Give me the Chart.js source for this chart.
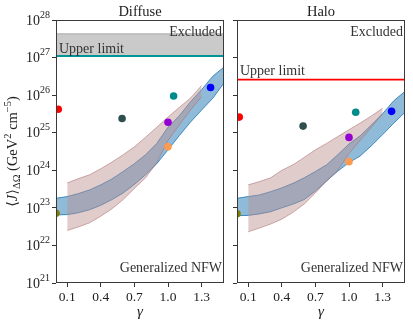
<!DOCTYPE html>
<html>
<head>
<meta charset="utf-8">
<script src="https://cdn.jsdelivr.net/npm/chart.js@4.4.0/dist/chart.umd.min.js"></script>
<style>
  body { margin: 0; background: #fff; }
  #wrap { position: relative; width: 413px; height: 326px; }
  canvas { position: absolute; top: 0; }
</style>
</head>
<body>
<div id="wrap">
  <canvas id="diffuse" width="231" height="326" style="left:0;width:231px;height:326px"></canvas>
  <canvas id="halo" width="182" height="326" style="left:231px;width:182px;height:326px"></canvas>
</div>
<script>
// axes
const decades = [21, 22, 23, 24, 25, 26, 27, 28];
const gammaTicks = [0.1, 0.4, 0.7, 1.0, 1.3];

// generalized NFW bands (gamma grid)
const gammaBand = [0, 0.1, 0.2, 0.3, 0.4, 0.5, 0.6, 0.7, 0.8, 0.9, 1.0, 1.1, 1.2, 1.3, 1.4, 1.5];
const gammaPink = [0.1, 0.2, 0.3, 0.4, 0.5, 0.6, 0.7, 0.8, 0.9, 1.0, 1.1, 1.2, 1.3];

const diffuseBlueLow = [6.5e22, 6.6e22, 7.4e22, 8.9e22, 1.17e23, 1.66e23, 2.5e23, 4.2e23, 7.6e23, 1.5e24, 3.5e24, 8.3e24, 1.9e25, 4.0e25, 8.3e25, 2.1e26];
const diffuseBlueHigh = [1.8e23, 2.0e23, 2.4e23, 3.0e23, 4.1e23, 5.9e23, 9.3e23, 1.5e24, 2.6e24, 5.2e24, 1.4e25, 2.8e25, 6.6e25, 1.4e26, 3.2e26, 5.6e26];
const diffusePinkLow = [2.5e22, 3.1e22, 4.0e22, 6.0e22, 9.5e22, 1.66e23, 3.3e23, 6.3e23, 1.6e24, 6.3e24, 1.6e25, 4.0e25, 9.1e25];
const diffusePinkHigh = [4.6e23, 6.0e23, 7.6e23, 1.1e24, 1.66e24, 2.6e24, 4.2e24, 7.6e24, 1.4e25, 2.6e25, 4.7e25, 8.3e25, 1.8e26];

const haloBlueLow = [6.2e22, 6.3e22, 6.9e22, 7.9e22, 1.0e23, 1.26e23, 1.66e23, 2.8e23, 5.2e23, 9.5e23, 1.6e24, 2.4e24, 4.5e24, 8.9e24, 1.8e25, 3.5e25];
const haloBlueHigh = [1.8e23, 2.0e23, 2.2e23, 2.7e23, 3.4e23, 4.5e23, 6.3e23, 9.3e23, 1.4e24, 2.6e24, 5.0e24, 8.3e24, 1.6e25, 3.2e25, 7.1e25, 1.26e26];
const haloPinkLow = [2.3e22, 2.9e22, 3.7e22, 5.0e22, 7.6e22, 1.26e23, 2.5e23, 5.2e23, 1.0e24, 2.8e24, 6.3e24, 1.4e25, 3.2e25];
const haloPinkHigh = [4.1e23, 5.0e23, 6.3e23, 1.0e24, 1.4e24, 2.2e24, 3.5e24, 5.2e24, 7.9e24, 1.2e25, 1.8e25, 2.8e25, 4.5e25];

// individual J-factor estimates
const sourceColors = ['#ff0000', '#2f4f4f', '#008b8b', '#9400d3', '#ff9a4f', '#0000ff', '#808000'];
const diffuseGamma = [0.02, 0.59, 1.05, 1.0, 1.0, 1.38, 0.0];
const diffuseJ = [4.2e25, 2.4e25, 9.5e25, 1.9e25, 4.2e24, 1.6e26, 7.2e22];
const haloGamma = [0.02, 0.59, 1.06, 1.0, 1.0, 1.38, 0.0];
const haloJ = [2.6e25, 1.5e25, 3.5e25, 7.5e24, 1.7e24, 3.7e25, 7.0e22];

// upper limits
const diffuseLimit = 1.1e27;
const diffuseExcludedTop = 4.3e27;
const haloLimit = 2.6e26;

const SERIF = "'Liberation Serif', 'DejaVu Serif', serif";
const TEXT = '#333';

function xy(xs, ys) {
    return xs.map((g, i) => ({ x: g, y: ys[i] }));
}

// draws frame, y tick labels with exponents, y title, panel title and notes
const panelDecor = {
    id: 'panelDecor',
    afterDraw(chart, args, o) {
        const ctx = chart.ctx;
        const a = chart.chartArea;
        const ys = chart.scales.y;
        ctx.save();
        ctx.strokeStyle = '#3a3a3a';
        ctx.lineWidth = 1;
        ctx.strokeRect(a.left + 0.5, a.top + 0.5, a.right - a.left - 1, a.bottom - a.top - 1);

        ctx.fillStyle = '#222';
        if (o.yLabels) {
            decades.forEach(e => {
                const y = ys.getPixelForValue(Math.pow(10, e));
                ctx.font = '14px ' + SERIF;
                ctx.textBaseline = 'middle';
                ctx.textAlign = 'left';
                const sup = String(e);
                const w1 = ctx.measureText('10').width;
                ctx.font = '10px ' + SERIF;
                const w2 = ctx.measureText(sup).width;
                const xr = a.left - 6;
                ctx.fillText(sup, xr - w2, y - 5);
                ctx.font = '14px ' + SERIF;
                ctx.fillText('10', xr - w2 - w1, y + 1);
            });

            // y title with sub/superscripts
            const parts = [
                ['\u27E8', 14.5, 0, ''], ['J', 14.5, 0, 'italic '], ['\u27E9', 14.5, 0, ''],
                ['\u0394\u03A9', 10.5, 4, ''], [' (GeV', 14.5, 0, ''], ['2', 10.5, -5, ''],
                [' cm', 14.5, 0, ''], ['\u22125', 10.5, -5, ''], [')', 14.5, 0, '']
            ];
            let total = 0;
            parts.forEach(p => { ctx.font = p[3] + p[1] + 'px ' + SERIF; total += ctx.measureText(p[0]).width; });
            ctx.translate(13, (a.top + a.bottom) / 2);
            ctx.rotate(-Math.PI / 2);
            let x = -total / 2;
            ctx.textAlign = 'left';
            parts.forEach(p => {
                ctx.font = p[3] + p[1] + 'px ' + SERIF;
                ctx.fillText(p[0], x, p[2]);
                x += ctx.measureText(p[0]).width;
            });
            ctx.setTransform(1, 0, 0, 1, 0, 0);
        }

        ctx.fillStyle = '#222';
        ctx.font = '14.5px ' + SERIF;
        ctx.textAlign = 'center';
        ctx.textBaseline = 'middle';
        ctx.fillText(o.title, (a.left + a.right) / 2, 12);

        ctx.fillStyle = TEXT;
        ctx.font = '14px ' + SERIF;
        ctx.textAlign = 'right';
        ctx.fillText('Excluded', a.right - 2, 32);
        ctx.fillText('Generalized NFW', a.right - 2, 268);
        ctx.textAlign = 'left';
        ctx.fillText('Upper limit', a.left + 3, o.limitTextY);
        ctx.restore();
    }
};

function makePanel(id, p) {
    const datasets = [
        { type: 'scatter', data: xy(p.gamma, p.J), pointBackgroundColor: sourceColors, pointBorderWidth: 0,
          pointRadius: 3.8, order: 0 },
        { type: 'line', data: [{ x: 0, y: p.limit }, { x: 1.5, y: p.limit }], borderColor: p.limitColor,
          borderWidth: 1.8, pointRadius: 0, fill: false, order: 1 },
        { type: 'line', data: xy(gammaPink, p.pinkLow), borderColor: 'rgba(170,110,110,0.55)', borderWidth: 1,
          pointRadius: 0, fill: false, order: 2 },
        { type: 'line', data: xy(gammaPink, p.pinkHigh), borderColor: 'rgba(170,110,110,0.55)', borderWidth: 1,
          pointRadius: 0, fill: '-1', backgroundColor: 'rgba(188,143,143,0.45)', order: 2 },
        { type: 'line', data: xy(gammaBand, p.blueLow), borderColor: 'rgba(31,119,180,0.8)', borderWidth: 1,
          pointRadius: 0, fill: false, order: 3 },
        { type: 'line', data: xy(gammaBand, p.blueHigh), borderColor: 'rgba(31,119,180,0.8)', borderWidth: 1,
          pointRadius: 0, fill: '-1', backgroundColor: 'rgba(31,119,180,0.5)', order: 3 }
    ];
    if (p.excludedTop) {
        datasets.push(
            { type: 'line', data: [{ x: 0, y: p.limit }, { x: 1.5, y: p.limit }], borderWidth: 0,
              pointRadius: 0, fill: false, order: 4 },
            { type: 'line', data: [{ x: 0, y: p.excludedTop }, { x: 1.5, y: p.excludedTop }],
              borderColor: 'rgba(110,110,110,0.6)', borderWidth: 0.8, pointRadius: 0,
              fill: '-1', backgroundColor: 'rgba(150,150,150,0.5)', order: 4 }
        );
    }

    return new Chart(document.getElementById(id), {
        type: 'line',
        data: { datasets: datasets },
        options: {
            responsive: false,
            animation: false,
            layout: { padding: { top: 20, right: p.padRight, left: 0, bottom: 0 } },
            plugins: {
                legend: { display: false },
                tooltip: { enabled: false },
                panelDecor: { title: p.title, yLabels: p.yLabels, limitTextY: p.limitTextY }
            },
            scales: {
                x: {
                    type: 'linear', min: 0, max: 1.5,
                    afterBuildTicks: s => { s.ticks = gammaTicks.map(v => ({ value: v })); },
                    afterFit: s => { s.height = 43; },
                    ticks: { callback: v => v.toFixed(1), font: { family: SERIF, size: 13.5 }, color: '#222',
                             padding: 2, maxRotation: 0, autoSkip: false },
                    grid: { drawOnChartArea: false, drawTicks: true, tickLength: 4, color: '#333' },
                    border: { display: false },
                    title: { display: true, text: '\u03B3', color: '#222',
                             font: { family: SERIF, size: 15, style: 'italic' }, padding: { top: 0, bottom: 5 } }
                },
                y: {
                    type: 'logarithmic', min: 1e21, max: 1e28,
                    afterBuildTicks: s => { s.ticks = decades.map(e => ({ value: Math.pow(10, e) })); },
                    afterFit: s => { s.width = p.yWidth; },
                    ticks: { callback: () => '', autoSkip: false },
                    grid: { drawOnChartArea: false, drawTicks: true, tickLength: 4, color: '#333' },
                    border: { display: false }
                }
            }
        },
        plugins: [panelDecor]
    });
}

makePanel('diffuse', {
    title: 'Diffuse', gamma: diffuseGamma, J: diffuseJ,
    blueLow: diffuseBlueLow, blueHigh: diffuseBlueHigh, pinkLow: diffusePinkLow, pinkHigh: diffusePinkHigh,
    limit: diffuseLimit, excludedTop: diffuseExcludedTop, limitColor: '#009595', limitTextY: 49,
    yLabels: true, yWidth: 56, padRight: 7
});

makePanel('halo', {
    title: 'Halo', gamma: haloGamma, J: haloJ,
    blueLow: haloBlueLow, blueHigh: haloBlueHigh, pinkLow: haloPinkLow, pinkHigh: haloPinkHigh,
    limit: haloLimit, excludedTop: null, limitColor: '#ff0000', limitTextY: 71,
    yLabels: false, yWidth: 6, padRight: 8
});
</script>
</body>
</html>
